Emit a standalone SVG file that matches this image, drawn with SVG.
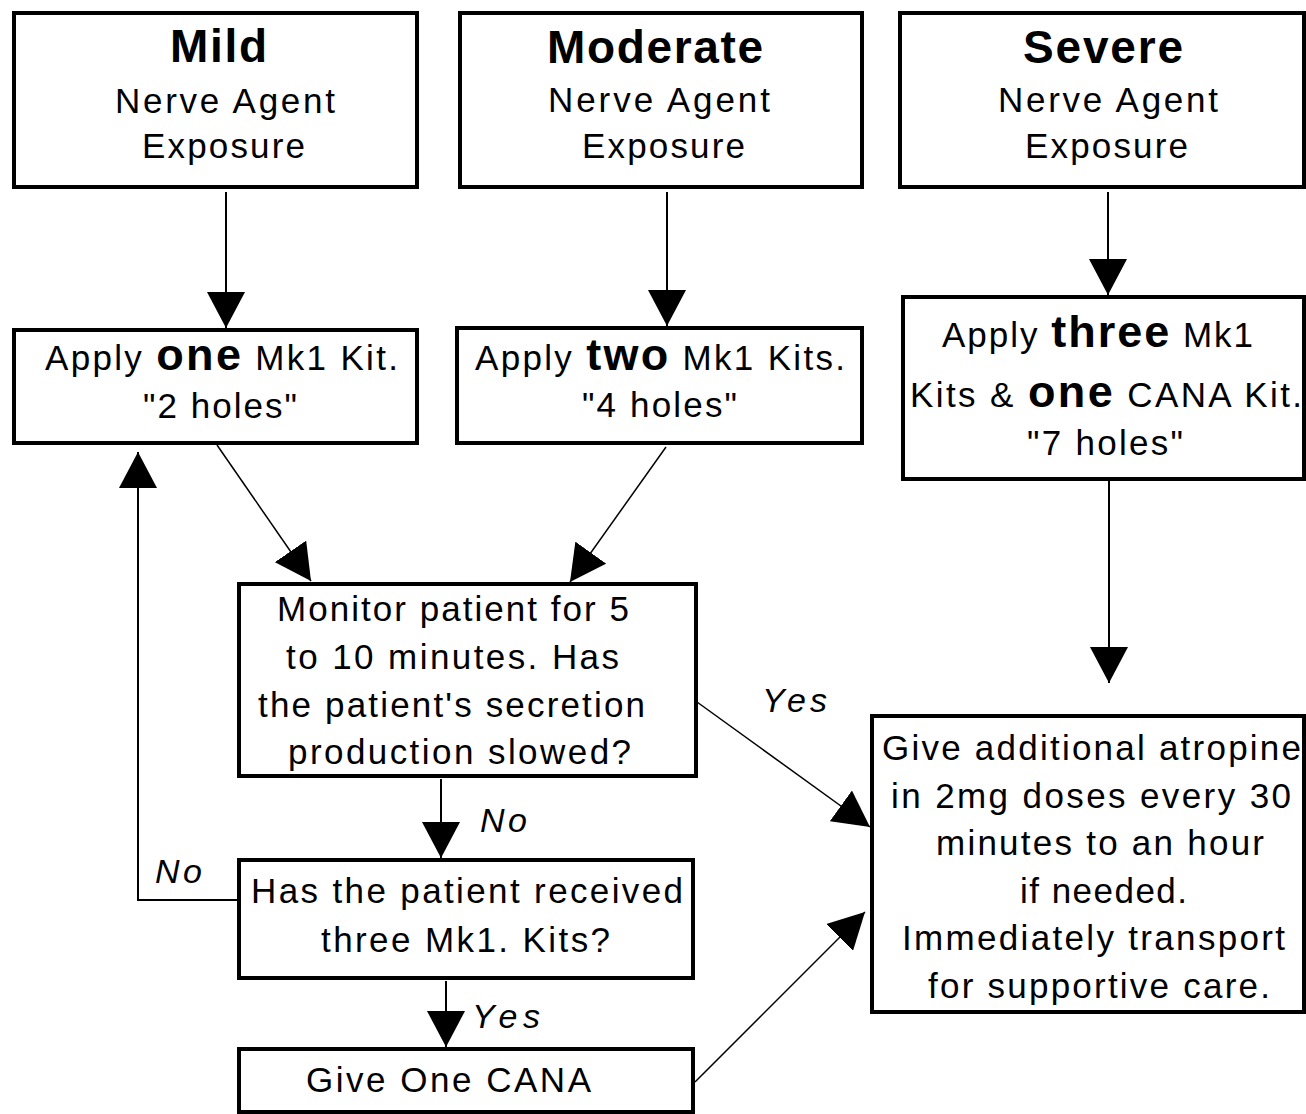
<svg xmlns="http://www.w3.org/2000/svg" width="1306" height="1114" viewBox="0 0 1306 1114">
<style>
.box{fill:#fff;stroke:#000;stroke-width:4}
text{font-family:"Liberation Sans",Arial,sans-serif;font-size:35px;fill:#000}
.h{font-weight:bold;font-size:46px}
.b{font-weight:bold;font-size:45px}
.lbl{font-style:italic;font-size:34px}
.c{fill:none;stroke:#000;stroke-width:2}
.d{fill:none;stroke:#000;stroke-width:1.5}
</style>
<defs>
<marker id="ah" markerUnits="userSpaceOnUse" viewBox="0 0 36 38" refX="36" refY="19" markerWidth="36" markerHeight="38" orient="auto">
<path d="M0,0 L36,19 L0,38 Z" fill="#000"/>
</marker>
</defs>
<rect width="1306" height="1114" fill="#fff"/>
<g id="connectors">
<line class="c" x1="226" y1="192" x2="226" y2="328" marker-end="url(#ah)"/>
<line class="c" x1="667" y1="192" x2="667" y2="326" marker-end="url(#ah)"/>
<line class="c" x1="1108" y1="192" x2="1108" y2="295" marker-end="url(#ah)"/>
<line class="c" x1="1109" y1="481" x2="1109" y2="683" marker-end="url(#ah)"/>
<line class="d" x1="217" y1="445" x2="311" y2="581" marker-end="url(#ah)"/>
<line class="d" x1="666" y1="447" x2="570" y2="582" marker-end="url(#ah)"/>
<line class="d" x1="697" y1="702" x2="870" y2="827" marker-end="url(#ah)"/>
<line class="d" x1="695" y1="1082" x2="865" y2="912" marker-end="url(#ah)"/>
<line class="c" x1="441" y1="779" x2="441" y2="858" marker-end="url(#ah)"/>
<line class="c" x1="446" y1="981" x2="446" y2="1047" marker-end="url(#ah)"/>
<path class="c" d="M238,900 H138 V452" marker-end="url(#ah)"/>
<text class="lbl" x="762" y="712" textLength="65">Yes</text>
<text class="lbl" x="480" y="832" textLength="47">No</text>
<text class="lbl" x="155" y="883" textLength="47">No</text>
<text class="lbl" x="472" y="1028" textLength="68">Yes</text>
</g>
<g id="mild">
<rect class="box" x="14" y="13" width="403" height="174"/>
<text class="h" x="170" y="62" textLength="97">Mild</text>
<text x="115" y="113" textLength="220">Nerve Agent</text>
<text x="142" y="158" textLength="163">Exposure</text>
</g>
<g id="moderate">
<rect class="box" x="460" y="13" width="402" height="174"/>
<text class="h" x="547" y="63" textLength="216">Moderate</text>
<text x="548" y="112" textLength="222">Nerve Agent</text>
<text x="582" y="158" textLength="163">Exposure</text>
</g>
<g id="severe">
<rect class="box" x="900" y="13" width="404" height="174"/>
<text class="h" x="1023" y="63" textLength="160">Severe</text>
<text x="998" y="112" textLength="220">Nerve Agent</text>
<text x="1025" y="158" textLength="163">Exposure</text>
</g>
<g id="apply-one">
<rect class="box" x="14" y="330" width="403" height="113"/>
<text x="45" y="370" textLength="353">Apply <tspan class="b">one</tspan> Mk1 Kit.</text>
<text x="143" y="418" textLength="154">"2 holes"</text>
</g>
<g id="apply-two">
<rect class="box" x="457" y="328" width="405" height="115"/>
<text x="475" y="370" textLength="370">Apply <tspan class="b">two</tspan> Mk1 Kits.</text>
<text x="582" y="417" textLength="155">"4 holes"</text>
</g>
<g id="apply-three">
<rect class="box" x="903" y="297" width="401" height="182"/>
<text x="942" y="347" textLength="311">Apply <tspan class="b">three</tspan> Mk1</text>
<text x="910" y="407" textLength="392">Kits &amp; <tspan class="b">one</tspan> CANA Kit.</text>
<text x="1027" y="455" textLength="156">"7 holes"</text>
</g>
<g id="monitor">
<rect class="box" x="239" y="584" width="457" height="192"/>
<text x="277" y="621" textLength="352">Monitor patient for 5</text>
<text x="286" y="669" textLength="333">to 10 minutes. Has</text>
<text x="258" y="717" textLength="387">the patient's secretion</text>
<text x="288" y="764" textLength="343">production slowed?</text>
</g>
<g id="three-kits">
<rect class="box" x="239" y="860" width="454" height="118"/>
<text x="251" y="903" textLength="432">Has the patient received</text>
<text x="321" y="952" textLength="289">three Mk1. Kits?</text>
</g>
<g id="give-cana">
<rect class="box" x="239" y="1049" width="454" height="63"/>
<text x="306" y="1092" textLength="285">Give One CANA</text>
</g>
<g id="atropine">
<rect class="box" x="872" y="716" width="432" height="296"/>
<text x="882" y="760" textLength="419">Give additional atropine</text>
<text x="891" y="808" textLength="400">in 2mg doses every 30</text>
<text x="936" y="855" textLength="328">minutes to an hour</text>
<text x="1020" y="903" textLength="167">if needed.</text>
<text x="902" y="950" textLength="383">Immediately transport</text>
<text x="928" y="998" textLength="342">for supportive care.</text>
</g>
</svg>
